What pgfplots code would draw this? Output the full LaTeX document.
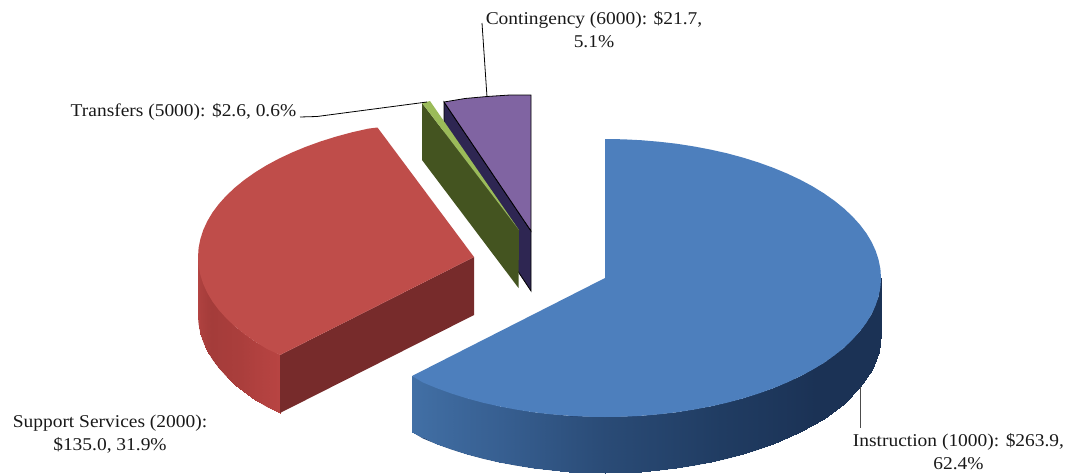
\documentclass[border=0pt]{standalone}
\usepackage{pgfplots}
\pgfplotsset{compat=1.18}
\usepackage{fontspec}
\setmainfont[FakeStretch=1.08]{Liberation Serif}
\definecolor{bluetop}{RGB}{77,127,189}
\definecolor{bluewall}{RGB}{40,72,116}
\definecolor{redtop}{RGB}{191,77,74}
\definecolor{redflat}{RGB}{119,43,43}
\definecolor{redwall}{RGB}{170,63,61}
\definecolor{purpletop}{RGB}{128,100,162}
\definecolor{purplewall}{RGB}{46,38,82}
\definecolor{greentop}{RGB}{155,187,89}
\definecolor{greenwall}{RGB}{68,84,32}
\pgfplotsset{
  colormap={bluewallmap}{rgb255(0)=(27,50,85) rgb255(40)=(27,50,85) rgb255(65)=(32,60,98) rgb255(90)=(42,75,118) rgb255(112)=(55,95,145) rgb255(135)=(66,112,166) rgb255(180)=(66,112,166)},
  colormap={redwallmap}{rgb255(0)=(184,68,66) rgb255(135)=(184,68,66) rgb255(148)=(170,62,60) rgb255(162)=(164,60,58) rgb255(180)=(180,68,66)},
}
\begin{document}
\begin{tikzpicture}
\useasboundingbox (0,0) rectangle (1068pt,474pt);
\begin{axis}[
  at={(0,0)}, anchor=south west,
  scale only axis, width=1068pt, height=474pt,
  xmin=0, xmax=1068, ymin=0, ymax=474, y dir=reverse,
  hide axis, clip=false,
  point meta min=0, point meta max=180,
]
% Support Services (2000): curved wall
\addplot[fill=redwall, draw=none] coordinates {(280,355)(266.5,348.7)(255,341.6)(244.5,334.2)(235,326.5)(226.5,318.5)(219,310.2)(212.6,301.7)(207.4,293)(203.3,284.1)(200.4,275.1)(198.6,266.1)(198,257)(198,315)(198.6,324.1)(200.4,333.1)(203.3,342.1)(207.4,351)(212.6,359.7)(219,368.2)(226.5,376.5)(235,384.5)(244.5,392.2)(255,399.6)(266.5,406.7)(280,413)} -- cycle;
\addplot[patch, patch type=rectangle, shader=interp, colormap name=redwallmap, point meta=explicit] table[meta=c] {
x y c
280 355 135
280 413 135
255 399.6 142.5
255 341.6 142.5
255 341.6 142.5
255 399.6 142.5
235 384.5 150
235 326.5 150
235 326.5 150
235 384.5 150
219 368.2 157.5
219 310.2 157.5
219 310.2 157.5
219 368.2 157.5
207.4 351 165
207.4 293 165
207.4 293 165
207.4 351 165
200.4 333.1 172.5
200.4 275.1 172.5
200.4 275.1 172.5
200.4 333.1 172.5
198 315 180
198 257 180
};
% Support Services (2000): flat wall and top
\addplot[fill=redflat, draw=none] coordinates {(280,355)(474,257)(474,315)(280,413)} -- cycle;
\addplot[fill=redtop, draw=none] coordinates {(280,355)(266.5,348.7)(255,341.6)(244.5,334.2)(235,326.5)(226.5,318.5)(219,310.2)(212.6,301.7)(207.4,293)(203.3,284.1)(200.4,275.1)(198.6,266.1)(198,257)(198.6,247.9)(200.4,238.9)(203.3,229.9)(207.4,221)(212.6,212.3)(219,203.8)(226.5,195.5)(235,187.5)(244.5,179.8)(255,172.4)(266.5,165.3)(278.8,158.7)(292,152.5)(306,146.7)(320.7,141.4)(336,136.6)(351.9,132.3)(368.4,128.6)(377.5,127.5)(474,257)} -- cycle;
% Contingency (6000)
\addplot[fill=purplewall, draw=black, line width=0.8pt] coordinates {(444,102)(531,231)(531,291)(444,160)} -- cycle;
\addplot[fill=purpletop, draw=black, line width=0.8pt] coordinates {(444,102)(465,98.5)(487,96.5)(510,95)(531,95)(531,231)} -- cycle;
% Transfers (5000)
\addplot[fill=greenwall, draw=none] coordinates {(422,103)(519,230)(518.5,288)(422,160)} -- cycle;
\addplot[fill=greentop, draw=none] coordinates {(422,103)(430,101)(519,230)} -- cycle;
% Instruction (1000): curved wall
\addplot[fill=bluewall, draw=none] coordinates {(881,278)(878.6,296.1)(871.6,314)(860,331.2)(844,347.5)(824,362.6)(800.2,376.3)(773,388.3)(743,398.4)(710.6,406.4)(676.4,412.3)(641,415.8)(605,417)(569,415.8)(533.6,412.3)(499.4,406.4)(467,398.4)(437,388.3)(412,376)(412,432)(423,438.5)(437,444.3)(451.7,449.6)(467,454.4)(482.9,458.7)(499.4,462.4)(516.3,465.6)(533.6,468.3)(551.2,470.3)(569,471.8)(586.9,472.7)(605,473)(623.1,472.7)(641,471.8)(658.8,470.3)(676.4,468.3)(693.7,465.6)(710.6,462.4)(727.1,458.7)(743,454.4)(758.3,449.6)(773,444.3)(787,438.5)(800.2,432.3)(812.5,425.7)(824,418.6)(834.5,411.2)(844,403.5)(852.5,395.5)(860,387.2)(866.4,378.7)(871.6,370)(875.7,361.1)(878.6,352.1)(880.4,343.1)(881,334)} -- cycle;
\addplot[patch, patch type=rectangle, shader=interp, colormap name=bluewallmap, point meta=explicit] table[meta=c] {
x y c
881 278 0
881 334 0
878.6 352.1 7.5
878.6 296.1 7.5
878.6 296.1 7.5
878.6 352.1 7.5
871.6 370 15
871.6 314 15
871.6 314 15
871.6 370 15
860 387.2 22.5
860 331.2 22.5
860 331.2 22.5
860 387.2 22.5
844 403.5 30
844 347.5 30
844 347.5 30
844 403.5 30
824 418.6 37.5
824 362.6 37.5
824 362.6 37.5
824 418.6 37.5
800.2 432.3 45
800.2 376.3 45
800.2 376.3 45
800.2 432.3 45
773 444.3 52.5
773 388.3 52.5
773 388.3 52.5
773 444.3 52.5
743 454.4 60
743 398.4 60
743 398.4 60
743 454.4 60
710.6 462.4 67.5
710.6 406.4 67.5
710.6 406.4 67.5
710.6 462.4 67.5
676.4 468.3 75
676.4 412.3 75
676.4 412.3 75
676.4 468.3 75
641 471.8 82.5
641 415.8 82.5
641 415.8 82.5
641 471.8 82.5
605 473 90
605 417 90
605 417 90
605 473 90
569 471.8 97.5
569 415.8 97.5
569 415.8 97.5
569 471.8 97.5
533.6 468.3 105
533.6 412.3 105
533.6 412.3 105
533.6 468.3 105
499.4 462.4 112.5
499.4 406.4 112.5
499.4 406.4 112.5
499.4 462.4 112.5
467 454.4 120
467 398.4 120
467 398.4 120
467 454.4 120
437 444.3 127.5
437 388.3 127.5
437 388.3 127.5
437 444.3 127.5
412 432 134.5
412 376 134.5
};
% Instruction (1000): top
\addplot[fill=bluetop, draw=none] coordinates {(605,278)(605,139)(623.1,139.3)(641,140.2)(658.8,141.7)(676.4,143.7)(693.7,146.4)(710.6,149.6)(727.1,153.3)(743,157.6)(758.3,162.4)(773,167.7)(787,173.5)(800.2,179.7)(812.5,186.3)(824,193.4)(834.5,200.8)(844,208.5)(852.5,216.5)(860,224.8)(866.4,233.3)(871.6,242)(875.7,250.9)(878.6,259.9)(880.4,268.9)(881,278)(880.4,287.1)(878.6,296.1)(875.7,305.1)(871.6,314)(866.4,322.7)(860,331.2)(852.5,339.5)(844,347.5)(834.5,355.2)(824,362.6)(812.5,369.7)(800.2,376.3)(787,382.5)(773,388.3)(758.3,393.6)(743,398.4)(727.1,402.7)(710.6,406.4)(693.7,409.6)(676.4,412.3)(658.8,414.3)(641,415.8)(623.1,416.7)(605,417)(586.9,416.7)(569,415.8)(551.2,414.3)(533.6,412.3)(516.3,409.6)(499.4,406.4)(482.9,402.7)(467,398.4)(451.7,393.6)(437,388.3)(423,382.5)(412,376)} -- cycle;
% Leader lines
\addplot[black, line width=0.8pt] coordinates {(482,23)(487,97)};
\addplot[black, line width=0.8pt] coordinates {(300,117)(317,116.5)(427,102)};
\addplot[black!70, line width=0.8pt] coordinates {(860,387)(860,428)};
% Data labels
\tikzset{lab/.style={font=\fontsize{18}{23}\selectfont, align=center, inner sep=0pt, text=black!90}}
\node[lab] at (axis cs:594,30) {Contingency (6000): \$21.7,\\5.1\%};
\node[lab] at (axis cs:183.5,112) {Transfers (5000): \$2.6, 0.6\%};
\node[lab] at (axis cs:110,434) {Support Services (2000):\\\$135.0, 31.9\%};
\node[lab] at (axis cs:958.5,452) {Instruction (1000): \$263.9,\\62.4\%};
\end{axis}
\end{tikzpicture}
\end{document}
